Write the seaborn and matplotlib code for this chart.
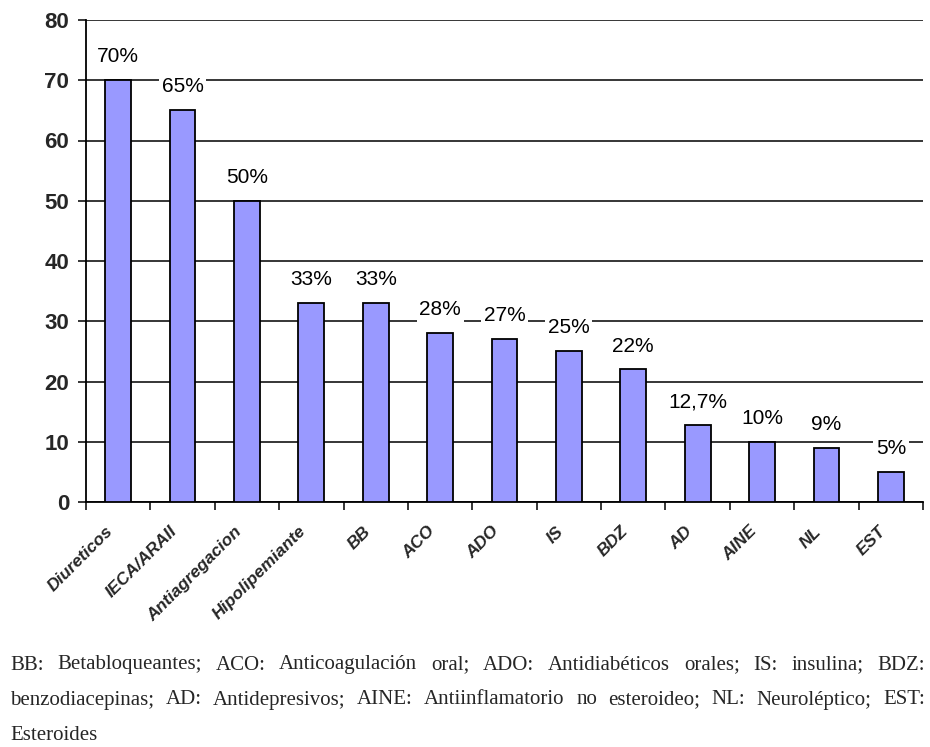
import matplotlib
matplotlib.use("Agg")
import matplotlib.pyplot as plt
import matplotlib.transforms as mtransforms
import seaborn as sns
import pandas as pd
import numpy as np

categories = ["Diureticos", "IECA/ARAII", "Antiagregacion", "Hipolipemiante", "BB", "ACO",
              "ADO", "IS", "BDZ", "AD", "AINE", "NL", "EST"]
values = [70, 65, 50, 33, 33, 28, 27, 25, 22, 12.7, 10, 9, 5]
value_labels = ["70%", "65%", "50%", "33%", "33%", "28%", "27%", "25%", "22%", "12,7%", "10%", "9%", "5%"]
y_ticks = [0, 10, 20, 30, 40, 50, 60, 70, 80]

footnote_lines = [
    "BB: Betabloqueantes; ACO: Anticoagulación oral; ADO: Antidiabéticos orales; IS: insulina; BDZ:",
    "benzodiacepinas; AD: Antidepresivos; AINE: Antiinflamatorio no esteroideo; NL: Neuroléptico; EST:",
    "Esteroides",
]

sns.set_theme(style="white")
plt.rcParams['font.family'] = ['Liberation Sans', 'DejaVu Sans']

df = pd.DataFrame({"cat": categories, "val": values})

fig = plt.figure(figsize=(9.3, 7.47), dpi=100)
ax = fig.add_axes([86/930, 1-502/747, (923-86)/930, (502-20)/747])

sns.barplot(data=df, x="cat", y="val", color="#9999FF", saturation=1, width=0.40,
            edgecolor="black", linewidth=1.3, ax=ax, zorder=3)

ax.set_ylim(0, 80)
ax.set_xlim(-0.5, len(categories) - 0.5)
ax.set_yticks(y_ticks)
ax.set_yticklabels([str(t) for t in y_ticks], fontsize=16, fontweight="bold")
ax.yaxis.grid(True, color="black", linewidth=1.1, zorder=0)
ax.set_axisbelow(True)
ax.set_xlabel("")
ax.set_ylabel("")

for s in ["top", "right"]:
    ax.spines[s].set_visible(False)
for s in ["left", "bottom"]:
    ax.spines[s].set_color("black")
    ax.spines[s].set_linewidth(1.3)

ax.tick_params(axis="y", which="major", direction="out", length=6, width=1.1, color="black", pad=6, left=True)

# x ticks between categories
ax.set_xticks(np.arange(len(categories) + 1) - 0.5, minor=True)
ax.set_xticks(np.arange(len(categories)))
ax.tick_params(axis="x", which="minor", direction="out", length=6, width=1.1, color="black", bottom=True)
ax.tick_params(axis="x", which="major", length=0, pad=12)
ax.set_xticklabels(categories, rotation=45, ha="right", rotation_mode="anchor",
                   fontsize=12.5, fontweight="bold", fontstyle="italic")
shift = mtransforms.ScaledTranslation(-13/100, -5/100, fig.dpi_scale_trans)
for lab in ax.get_xticklabels():
    lab.set_transform(lab.get_transform() + shift)

for i, (v, lab) in enumerate(zip(values, value_labels)):
    ax.annotate(lab, xy=(i, v), xytext=(0, 10), textcoords="offset points",
                ha="center", va="bottom", fontsize=15, color="black",
                bbox=dict(facecolor="white", edgecolor="none", pad=2), zorder=4)

# footnote, justified
fig.canvas.draw()
renderer = fig.canvas.get_renderer()
x0, x1 = 10/930, 925/930
ys = [1-665/747, 1-700/747, 1-736/747]
fkw = dict(fontsize=15, family=["Liberation Serif", "DejaVu Serif"], va="center", ha="left")
for li, (line, yy) in enumerate(zip(footnote_lines, ys)):
    if li == len(footnote_lines) - 1:
        fig.text(x0, yy, line, **fkw)
        continue
    words = line.split(" ")
    widths = []
    for w in words:
        t = fig.text(0, 0, w, **fkw)
        bb = t.get_window_extent(renderer)
        widths.append(bb.width / fig.bbox.width)
        t.remove()
    gap = (x1 - x0 - sum(widths)) / (len(words) - 1)
    x = x0
    for w, wd in zip(words, widths):
        fig.text(x, yy, w, **fkw)
        x += wd + gap

fig.savefig("out.png", dpi=100, facecolor="white")
